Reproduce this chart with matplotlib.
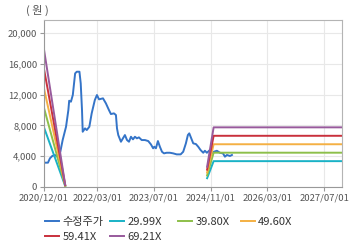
import numpy as np
import pandas as pd
import matplotlib
matplotlib.use("Agg")
import matplotlib.pyplot as plt

plt.rcParams['font.family'] = ['Noto Sans CJK KR', 'DejaVu Sans']

# adjusted share price
price_dates = ['2020-12-08', '2021-01-04', '2021-01-21', '2021-02-10', '2021-03-05', '2021-03-25',
               '2021-04-20', '2021-05-10', '2021-06-08', '2021-06-28', '2021-07-05', '2021-07-20',
               '2021-08-05', '2021-08-25', '2021-09-08', '2021-10-01', '2021-10-12', '2021-10-23',
               '2021-10-29', '2021-11-18', '2021-12-03', '2021-12-25', '2022-01-14', '2022-02-10',
               '2022-02-28', '2022-03-18', '2022-04-21', '2022-05-16', '2022-06-11', '2022-06-28',
               '2022-07-24', '2022-08-10', '2022-08-19', '2022-08-30', '2022-09-22', '2022-10-09',
               '2022-10-26', '2022-11-13', '2022-11-30', '2022-12-17', '2023-01-03', '2023-01-20',
               '2023-02-06', '2023-02-23', '2023-03-19', '2023-04-16', '2023-05-14', '2023-06-06',
               '2023-06-25', '2023-07-05', '2023-07-19', '2023-08-05', '2023-08-22', '2023-09-09',
               '2023-09-26', '2023-10-19', '2023-11-16', '2023-12-14', '2024-01-13', '2024-02-16',
               '2024-03-09', '2024-04-01', '2024-04-18', '2024-04-30', '2024-05-17', '2024-06-03',
               '2024-06-26', '2024-07-16', '2024-08-05', '2024-08-28', '2024-09-11', '2024-09-28',
               '2024-10-24', '2024-11-10', '2024-11-27', '2024-12-23', '2025-01-18', '2025-02-13',
               '2025-03-02', '2025-03-19', '2025-04-14', '2025-05-01']
price = [3160, 3160, 3730, 4030, 4160, 3940,
         4580, 6100, 7830, 10000, 11210, 11080,
         11950, 14760, 14980, 14980, 13460, 10000,
         7180, 7620, 7400, 7830, 9570, 11300,
         11950, 11390, 11520, 10870, 10000, 9480,
         9570, 9350, 7620, 6750, 5880, 6320,
         6750, 6100, 5880, 6530, 6190, 6530,
         6320, 6450, 6100, 6100, 5970, 5540,
         5030, 5230, 5030, 5970, 5230, 4580,
         4370, 4450, 4450, 4370, 4240, 4240,
         4580, 5670, 6750, 6970, 6320, 5670,
         5580, 5230, 4800, 4450, 4710, 4450,
         4800, 4370, 4580, 4710, 4450, 4370,
         3940, 4160, 4030, 4160]

# EPS used for the PER bands (two pieces, gap where EPS is missing)
eps_dates_1 = ['2020-12-01', '2021-06-01']
eps_1 = [258, 4]
eps_dates_2 = ['2024-09-30', '2024-11-25', '2027-12-01']
eps_2 = [38, 112, 112]

multiples = [29.99, 39.80, 49.60, 59.41, 69.21]
band_labels = ['29.99X', '39.80X', '49.60X', '59.41X', '69.21X']
band_colors = ['#19b2c6', '#8dbf4a', '#f4b043', '#c9303c', '#985a9c']
price_color = '#3474c8'

tick_dates = ['2020-12-01', '2022-03-01', '2023-07-01', '2024-11-01', '2026-03-01', '2027-07-01']
y_ticks = [0, 4000, 8000, 12000, 16000, 20000]

fig = plt.figure(figsize=(3.6, 2.48), dpi=100)
ax = fig.add_axes([44 / 360, 1 - 187 / 248, 298 / 360, 167 / 248])

handles = []
h, = ax.plot(pd.to_datetime(price_dates), price, color=price_color, lw=1.4)
handles.append(h)
for m, lab, c in zip(multiples, band_labels, band_colors):
    ax.plot(pd.to_datetime(eps_dates_1), np.array(eps_1) * m, color=c, lw=1.4)
    h, = ax.plot(pd.to_datetime(eps_dates_2), np.array(eps_2) * m, color=c, lw=1.4)
    handles.append(h)

ax.set_xlim(pd.Timestamp('2020-12-01'), pd.Timestamp('2027-12-01'))
ax.set_ylim(0, 21700)
ax.set_xticks(pd.to_datetime(tick_dates))
ax.set_xticklabels([d.replace('-', '/') for d in tick_dates])
ax.set_yticks(y_ticks)
ax.set_yticklabels([f'{v:,}' for v in y_ticks])
ax.tick_params(labelsize=6.8, colors='#999999', labelcolor='#555555', length=3, pad=2)
ax.grid(color='#e8e8e8', lw=0.8)
ax.set_axisbelow(True)
for s in ax.spines.values():
    s.set_color('#b4b4b4')
ax.spines['left'].set_color('#999999')
ax.spines['bottom'].set_color('#999999')

fig.text(26 / 360, 1 - 10 / 248, '( 원 )', fontsize=8, color='#555555', va='center')

# legend: 4 equally spaced columns
labels = ['수정주가'] + band_labels
cols = [[0, 4], [1, 5], [2], [3]]
col_x = [45, 110, 178, 241]
for idx, x in zip(cols, col_x):
    fig.legend([handles[i] for i in idx], [labels[i] for i in idx],
               loc='upper left', bbox_to_anchor=(x / 360, 1 - 217 / 248),
               frameon=False, fontsize=8, handlelength=1.3, handletextpad=0.25,
               borderpad=0, borderaxespad=0, labelspacing=0.45, labelcolor='#333333')

fig.savefig('out.png', dpi=100)
